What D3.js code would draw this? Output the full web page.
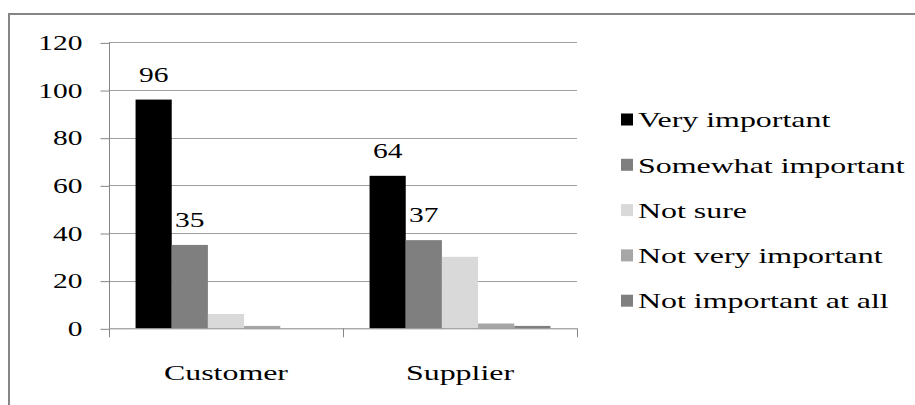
<!DOCTYPE html>
<html><head><meta charset="utf-8">
<script src="https://cdn.jsdelivr.net/npm/d3@7"></script>
<style>body{margin:0;background:#fff}svg{display:block}text{font-family:"Liberation Serif","Times New Roman",serif;fill:#000}</style>
</head><body><svg id="c" width="915" height="405"></svg>
<script>
const categories = ["Customer", "Supplier"];
const seriesNames = ["Very important", "Somewhat important", "Not sure", "Not very important", "Not important at all"];
const seriesColors = ["#000000", "#7f7f7f", "#d9d9d9", "#a6a6a6", "#7f7f7f"];
const veryImportant = [96, 64];
const somewhatImportant = [35, 37];
const notSure = [6, 30];
const notVeryImportant = [1, 2];
const notImportantAtAll = [0, 1];
const labelledSeries = [0, 1];
const yTicks = [0, 20, 40, 60, 80, 100, 120];

const values = [veryImportant, somewhatImportant, notSure, notVeryImportant, notImportantAtAll];
const svg = d3.select("#c");
const FS = 22;
const DIGIT_K = 1.34, WORD_K = 1.45;
function stretch(k){
  return sel => sel.each(function(){
    const l = this.getComputedTextLength();
    d3.select(this).attr("textLength", l*k).attr("lengthAdjust","spacingAndGlyphs");
  });
}

// frame
svg.append("rect").attr("x",9).attr("y",14).attr("width",930).attr("height",420)
  .attr("fill","none").attr("stroke","#868686").attr("stroke-width",2);

const pL=109, pR=577, pT=42.4, pB=328.3;
const y = d3.scaleLinear().domain([0,120]).range([pB, pT]);
const x0 = d3.scaleBand().domain(categories).range([pL, pR]).paddingInner(0.227).paddingOuter(0.1135);
const x1 = d3.scaleBand().domain(d3.range(seriesNames.length)).range([0, x0.bandwidth()]);

// gridlines
svg.append("g").selectAll("line").data(yTicks.filter(t=>t>0)).join("line")
  .attr("x1",pL).attr("x2",pR).attr("y1",d=>Math.round(y(d))+0.5).attr("y2",d=>Math.round(y(d))+0.5)
  .attr("stroke","#a0a0a0").attr("stroke-width",1);

// bars
const gBars = svg.append("g");
categories.forEach((c,ci)=>{
  values.forEach((arr,si)=>{
    const v = arr[ci];
    if (v<=0) return;
    gBars.append("rect").attr("x",x0(c)+x1(si)).attr("width",x1.bandwidth())
      .attr("y",y(v)).attr("height",pB-y(v)).attr("fill",seriesColors[si]);
  });
});

// y axis
const yAxis = d3.axisLeft(y).tickValues(yTicks).tickSize(9).tickPadding(18).tickSizeOuter(0);
const gy = svg.append("g").attr("transform",`translate(${pL+0.5},0)`).call(yAxis);
gy.attr("font-family",null).attr("font-size",null);
gy.select(".domain").attr("stroke","#868686").attr("d",`M0,${pT}V${pB+9}`);
gy.selectAll(".tick line").attr("stroke","#868686").attr("transform","translate(0,0.5)");
gy.selectAll(".tick text").attr("font-size",FS).attr("fill","#000").attr("dy","0.33em").call(stretch(DIGIT_K));

// x axis baseline and ticks
const gx = svg.append("g");
gx.append("line").attr("x1",pL).attr("x2",pR).attr("y1",pB+0.5).attr("y2",pB+0.5).attr("stroke","#868686");
const boundaries = categories.map(c=>x0(c)+x0.bandwidth()+x0.step()*x0.paddingInner()/2);
boundaries[boundaries.length-1] = pR;
gx.selectAll("line.t").data(boundaries).join("line").attr("class","t")
  .attr("x1",d=>Math.round(d)+0.5).attr("x2",d=>Math.round(d)+0.5).attr("y1",pB).attr("y2",pB+9).attr("stroke","#868686");
gx.selectAll("text").data(categories).join("text")
  .attr("x",d=>x0(d)+x0.bandwidth()/2).attr("y",380).attr("text-anchor","middle").attr("font-size",FS).text(d=>d).call(stretch(WORD_K));

// data labels
categories.forEach((c,ci)=>{
  labelledSeries.forEach(si=>{
    const v = values[si][ci];
    svg.append("text").attr("x",x0(c)+x1(si)+x1.bandwidth()/2).attr("y",y(v)-18)
      .attr("text-anchor","middle").attr("font-size",FS).text(v).call(stretch(DIGIT_K));
  });
});

// legend
const lg = svg.append("g").attr("transform","translate(621,0)");
seriesNames.forEach((n,i)=>{
  const cy = 120 + i*45.3;
  lg.append("rect").attr("x",0).attr("y",cy-6.5).attr("width",12).attr("height",12).attr("fill",seriesColors[i]);
  lg.append("text").attr("x",17).attr("y",cy).attr("dy","0.33em").attr("font-size",FS).text(n).call(stretch(WORD_K));
});
</script></body></html>
